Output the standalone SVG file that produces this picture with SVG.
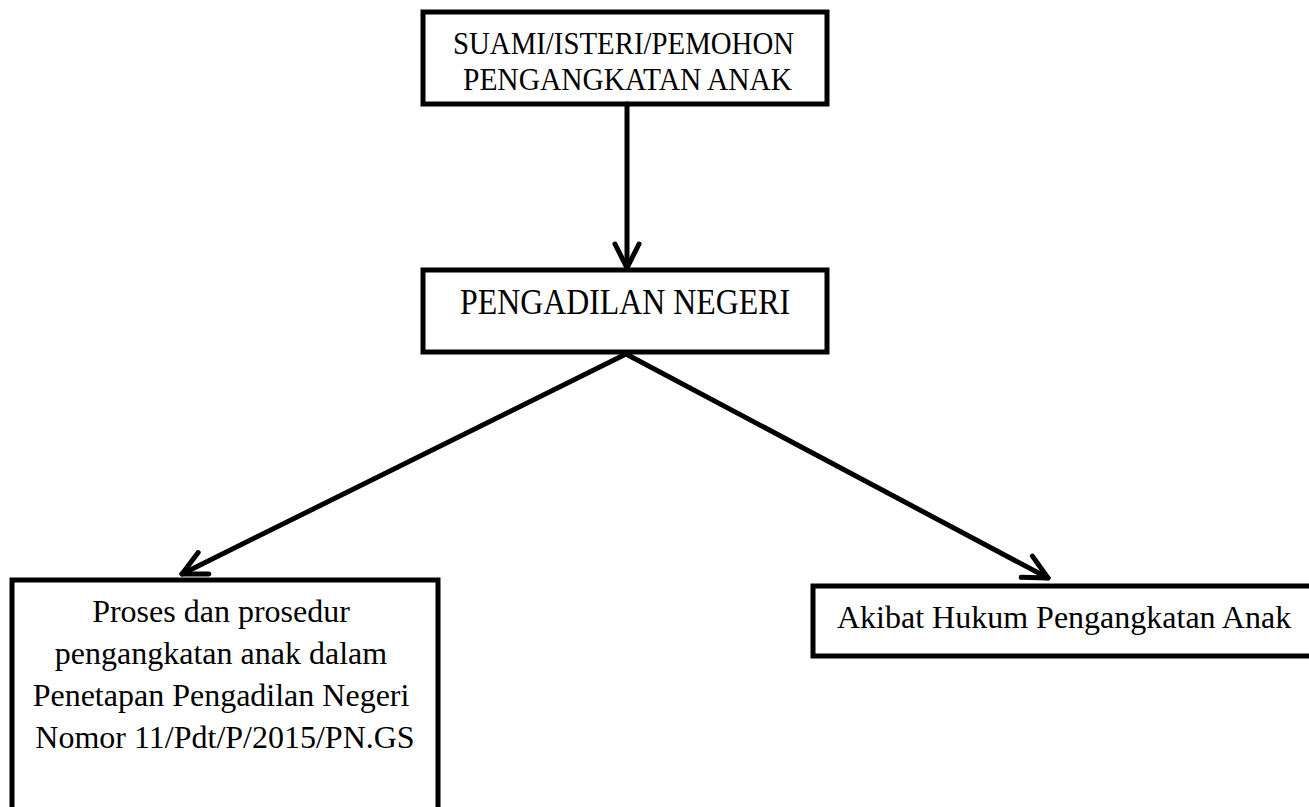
<svg xmlns="http://www.w3.org/2000/svg" width="1309" height="807" viewBox="0 0 1309 807">
<style>
.box{fill:#fff;stroke:#000;stroke-width:5}
.lbl{font-family:"Liberation Serif","Times New Roman",serif;fill:#000}
.conn{stroke:#000;stroke-width:5;fill:none;stroke-linecap:round}
</style>
<defs>
<marker id="ah" viewBox="-30 -16 34 32" refX="0" refY="0" markerWidth="34" markerHeight="32" markerUnits="userSpaceOnUse" orient="auto">
<path d="M-24,-12 L0,0 L-24,12" fill="none" stroke="#000" stroke-width="5" stroke-linecap="round" stroke-linejoin="round"/>
</marker>
</defs>
<rect width="1309" height="807" fill="#fff"/>
<g id="node-pemohon">
<rect class="box" x="423" y="12" width="404" height="92"/>
<text class="lbl" x="453" y="54" font-size="32" textLength="341" lengthAdjust="spacingAndGlyphs">SUAMI/ISTERI/PEMOHON</text>
<text class="lbl" x="463" y="90" font-size="32" textLength="329" lengthAdjust="spacingAndGlyphs">PENGANGKATAN ANAK</text>
</g>
<g id="node-pengadilan">
<rect class="box" x="423" y="270" width="404" height="82"/>
<text class="lbl" x="460" y="314" font-size="35" textLength="330" lengthAdjust="spacingAndGlyphs">PENGADILAN NEGERI</text>
</g>
<g id="node-proses">
<rect class="box" x="12" y="580" width="426" height="240"/>
<text class="lbl" font-size="32" text-anchor="middle">
<tspan x="225" y="622">Proses dan prosedur</tspan>
<tspan x="225" y="664">pengangkatan anak dalam</tspan>
<tspan x="225" y="706">Penetapan Pengadilan Negeri</tspan>
<tspan x="225" y="748">Nomor 11/Pdt/P/2015/PN.GS</tspan>
</text>
</g>
<g id="node-akibat">
<rect class="box" x="813" y="586" width="510" height="70"/>
<text class="lbl" x="837" y="628" font-size="32">Akibat Hukum Pengangkatan Anak</text>
</g>
<g id="connectors">
<line class="conn" x1="627" y1="104" x2="627" y2="268" marker-end="url(#ah)"/>
<line class="conn" x1="626" y1="354" x2="182" y2="574" marker-end="url(#ah)"/>
<line class="conn" x1="626" y1="354" x2="1048" y2="578" marker-end="url(#ah)"/>
</g>
</svg>
